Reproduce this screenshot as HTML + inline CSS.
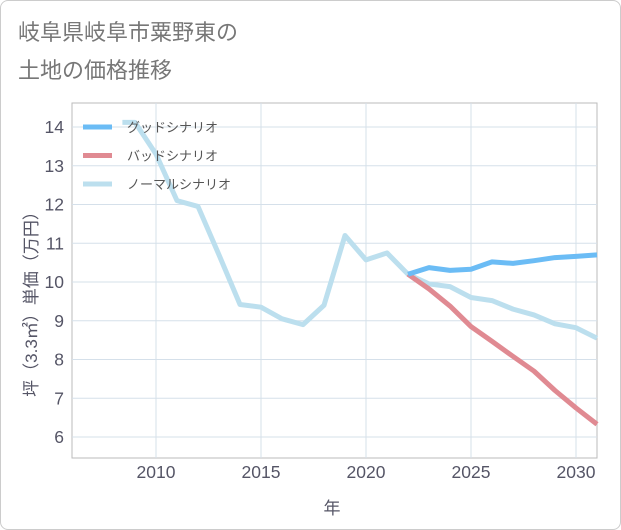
<!DOCTYPE html>
<html><head><meta charset="utf-8"><style>
body{margin:0;background:#fff;font-family:"Liberation Sans","Noto Sans CJK JP",sans-serif;}
#wrap{position:relative;width:619px;height:528px;border:1px solid #ccc;border-radius:8px;background:#fff;}
</style></head><body>
<div id="wrap">
<svg id="c" width="621" height="530" style="position:absolute;left:-1px;top:-1px"></svg>
</div>
<script>
const years=[2008.4,2009,2010,2011,2012,2013,2014,2015,2016,2017,2018,2019,2020,2021,2022,2023,2024,2025,2026,2027,2028,2029,2030,2031];
const normal=[14.12,14.12,13.3,12.1,11.95,10.7,9.42,9.35,9.05,8.9,9.4,11.2,10.57,10.75,10.2,9.95,9.88,9.6,9.52,9.3,9.15,8.92,8.82,8.55];
const fYears=[2022,2023,2024,2025,2026,2027,2028,2029,2030,2031];
const good=[10.2,10.37,10.3,10.33,10.52,10.48,10.55,10.63,10.66,10.7];
const bad=[10.2,9.82,9.38,8.85,8.47,8.08,7.7,7.2,6.75,6.33];
const xTicks=[2010,2015,2020,2025,2030];
const yTicks=[6,7,8,9,10,11,12,13,14];
const legendLabels=["グッドシナリオ","バッドシナリオ","ノーマルシナリオ"];
const colors=["#6bbcf5","#e08a92","#bcdfee"];
const L=72,R=597,T=103,B=458;
const X=v=>L+(v-2006)*(R-L)/25;
const Y=v=>437-(v-6)*38.75;
const svg=document.getElementById('c');
const NS="http://www.w3.org/2000/svg";
function mk(t,a,p){const e=document.createElementNS(NS,t);for(const k in a)e.setAttribute(k,a[k]);(p||svg).appendChild(e);return e;}
let t=mk('text',{x:18,y:40,'font-size':22,fill:'#777'});t.textContent='岐阜県岐阜市粟野東の';

t=mk('text',{x:18,y:78,'font-size':22,fill:'#777'});t.textContent='土地の価格推移';

let r=mk('rect',{x:L,y:T,width:R-L,height:B-T,fill:'none',stroke:'#bbb'});

yTicks.forEach(v=>{let g=mk('line',{x1:L,x2:R,y1:Y(v),y2:Y(v),stroke:'#d5e0ea'});

let tx=mk('text',{x:L-8,y:Y(v)+6,'font-size':17.5,fill:'#556','text-anchor':'end'});tx.textContent=v;
});
xTicks.forEach(v=>{let g=mk('line',{x1:X(v),x2:X(v),y1:T,y2:B,stroke:'#d5e0ea'});

let tx=mk('text',{x:X(v),y:478,'font-size':17.5,fill:'#556','text-anchor':'middle'});tx.textContent=v;
});
t=mk('text',{x:332,y:514,'font-size':17,fill:'#556','text-anchor':'middle'});t.textContent='年';

t=mk('text',{x:0,y:0,'font-size':17,fill:'#556','text-anchor':'middle',transform:'translate(37,300) rotate(-90)'});t.textContent='坪（3.3㎡）単価（万円）';

function line(xs,ys,c,name){const d=xs.map((x,i)=>(i?'L':'M')+X(x)+','+Y(ys[i])).join('');
let p=mk('path',{d,fill:'none',stroke:c,'stroke-width':5,'stroke-linejoin':'round'});
}
line(years,normal,colors[2],'normal-line');
line(fYears,bad,colors[1],'bad-line');
line(fYears,good,colors[0],'good-line');
legendLabels.forEach((s,i)=>{const y=127+i*28.5;
let l=mk('line',{x1:83,x2:112,y1:y,y2:y,stroke:colors[i],'stroke-width':5});

let tx=mk('text',{x:127,y:y+5,'font-size':13,fill:'#555'});tx.textContent=s;
});
</script>
</body></html>
